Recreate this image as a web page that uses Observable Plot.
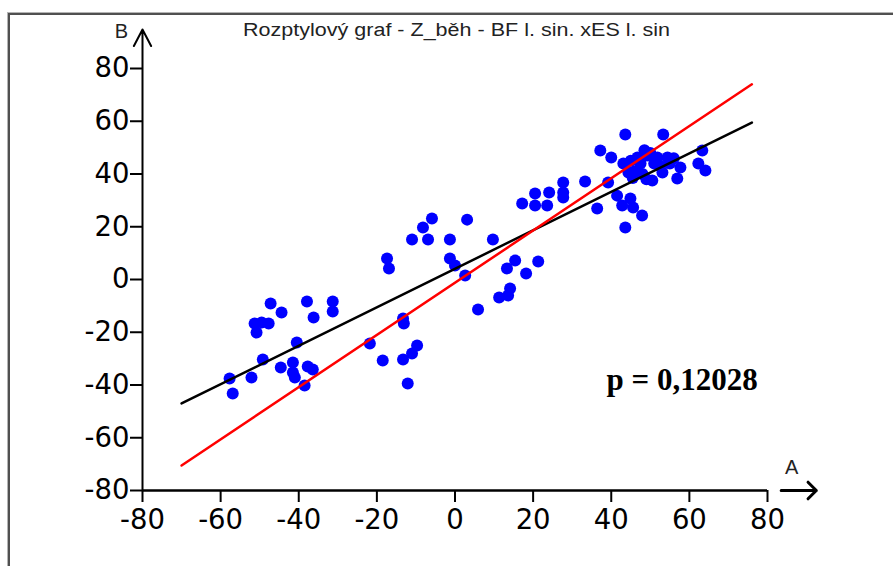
<!DOCTYPE html>
<html><head><meta charset="utf-8">
<script src="https://cdn.jsdelivr.net/npm/d3@7"></script>
<script src="https://cdn.jsdelivr.net/npm/@observablehq/plot@0.6"></script>
<style>
body{margin:0;background:#fff}
#wrap{position:relative;width:893px;height:566px;overflow:hidden;background:#fff}
#border{position:absolute;left:7px;top:12px;width:1000px;height:1000px;border-left:1px solid #b4b4b4;border-top:1px solid #b4b4b4;pointer-events:none}
#border2{position:absolute;left:8px;top:13px;width:1000px;height:1000px;border-left:2px solid #505050;border-top:2px solid #505050;pointer-events:none}
</style></head>
<body>
<div id="wrap"><div id="border"></div><div id="border2"></div></div>
<script>
const titleText = "Rozptylový graf - Z_běh - BF l. sin. xES l. sin";
const xAxisName = "A";
const yAxisName = "B";
const pLabel = "p = 0,12028";

const xTicks = [-80,-60,-40,-20,0,20,40,60,80];
const xTickLabels = ["-80","-60","-40","-20","0","20","40","60","80"];
const yTicks = [-80,-60,-40,-20,0,20,40,60,80];
const yTickLabels = ["-80","-60","-40","-20","0","20","40","60","80"];

// scatter values (A = x, B = y)
const valuesA = [
  -57.7,-56.9,-52.1,-51.3,-50.8,-49.5,-47.7,-49.2,-47.2,-44.4,-44.6,-41.5,-41.5,-41.0,-40.5,-38.5,-37.9,-37.7,-36.4,-36.2,-31.3,-31.3,
  -21.8,-18.5,-17.4,-16.9,-13.3,-13.1,-13.3,-12.1,-11.0,-9.7,-11.0,-8.2,-6.9,-5.9,-1.3,-1.3,0,2.6,3.1,5.9,
  9.7,11.3,13.6,14.1,13.3,15.4,18.2,21.3,17.2,20.5,20.5,23.6,24.1,27.7,27.7,27.7,33.3,36.4,
  37.2,40.0,39.2,41.5,43.6,43.1,44.4,42.8,44.9,45.6,47.9,43.6,46.7,49.2,51.8,54.4,53.3,50.5,53.1,56.9,57.7,63.3,62.3,64.1,
  45,46,47.5,48.5,50,51,52.5,55,56,48,45.5,49
];
const valuesB = [
  -37.5,-43.2,-37.2,-16.7,-20.1,-16.3,-16.7,-30.3,-9.1,-12.5,-33.4,-31.5,-35.3,-37.2,-23.9,-40.2,-8.3,-33.0,-34.1,-14.4,-8.3,-12.1,
  -24.3,-30.7,8.0,4.2,-14.8,-16.7,-30.3,-39.4,-28.1,-25.0,15.2,19.7,15.2,23.1,15.2,8.0,5.3,1.5,22.7,-11.4,
  15.2,-6.8,-6.1,-3.4,4.2,7.2,2.3,6.8,28.8,32.6,28.1,28.1,33.0,36.8,33.0,31.1,37.2,26.9,
  48.9,46.3,36.8,31.8,55.0,44.0,40.6,28.1,30.7,27.3,24.3,19.7,46.3,47.0,46.3,46.3,55.0,37.5,40.6,38.3,42.5,48.9,44.0,41.3,
  45,41,44,49,48,44,43,44,46,40,38.5,38
];

// fitted lines: endpoints (A, B)
const blackLineA = [-70, 76];
const blackLineB = [-47, 59.5];
const redLineA = [-70, 76];
const redLineB = [-70.5, 74];

const points = valuesA.map((a, i) => ({a, b: valuesB[i]}));
const blackLine = blackLineA.map((a, i) => ({a, b: blackLineB[i]}));
const redLine = redLineA.map((a, i) => ({a, b: redLineB[i]}));

const chart = Plot.plot({
  width: 893, height: 566,
  marginLeft: 142, marginRight: 126, marginTop: 68, marginBottom: 76,
  x: {domain: [-80, 80]},
  y: {domain: [-80, 80]},
  style: {background: "transparent", color: "black", fontFamily: "'DejaVu Sans', sans-serif", overflow: "visible"},
  marks: [
    Plot.axisY({ticks: yTicks, tickFormat: d => yTickLabels[yTicks.indexOf(d)], tickSize: 12, tickPadding: 1, strokeWidth: 2, fontSize: 27.5, label: null}),
    Plot.axisX({ticks: xTicks, tickFormat: d => xTickLabels[xTicks.indexOf(d)], tickSize: 12, tickPadding: 7, strokeWidth: 2, fontSize: 27.5, label: null}),
    Plot.ruleY([-80], {x1: -80, x2: 80, strokeWidth: 2.5}),
    Plot.arrow([{x1: -80, y1: -80, x2: -80, y2: 94.8}], {x1: "x1", y1: "y1", x2: "x2", y2: "y2", strokeWidth: 2, headLength: 14, headAngle: 55}),
    Plot.arrow([{x1: 83.5, y1: -80, x2: 92.5, y2: -80}], {x1: "x1", y1: "y1", x2: "x2", y2: "y2", strokeWidth: 3, headLength: 8, headAngle: 90}),
    Plot.text([yAxisName], {x: -85.4, y: 94, text: d => d, fontSize: 20, fontFamily: "'Liberation Sans', Arial, sans-serif", fill: "#222"}),
    Plot.text([xAxisName], {x: 86.2, y: -71.3, text: d => d, fontSize: 20, fontFamily: "'Liberation Sans', Arial, sans-serif", fill: "#222"}),
    Plot.text([titleText], {x: 0.4, y: 94.4, text: d => d, fontSize: 18, fontFamily: "'Liberation Sans', Arial, sans-serif", fill: "#222"}),
    Plot.dot(points, {x: "a", y: "b", r: 6, fill: "#0000ff", stroke: "none"}),
    Plot.line(blackLine, {x: "a", y: "b", stroke: "black", strokeWidth: 2.5}),
    Plot.line(redLine, {x: "a", y: "b", stroke: "#ff0000", strokeWidth: 2.5}),
    Plot.text([pLabel], {x: 38.8, y: -38.3, text: d => d, textAnchor: "start", fontSize: 31, fontWeight: "bold", fontFamily: "'Liberation Serif', 'Times New Roman', serif", fill: "black"})
  ]
});
const wrap = document.getElementById("wrap");
chart.style.position = "absolute";
chart.style.left = "0px";
chart.style.top = "0px";
wrap.insertBefore(chart, wrap.firstChild);
d3.select(chart).selectAll("text").filter(function(){ return this.textContent === titleText; })
  .attr("textLength", 427).attr("lengthAdjust", "spacingAndGlyphs");
</script>
</body></html>
